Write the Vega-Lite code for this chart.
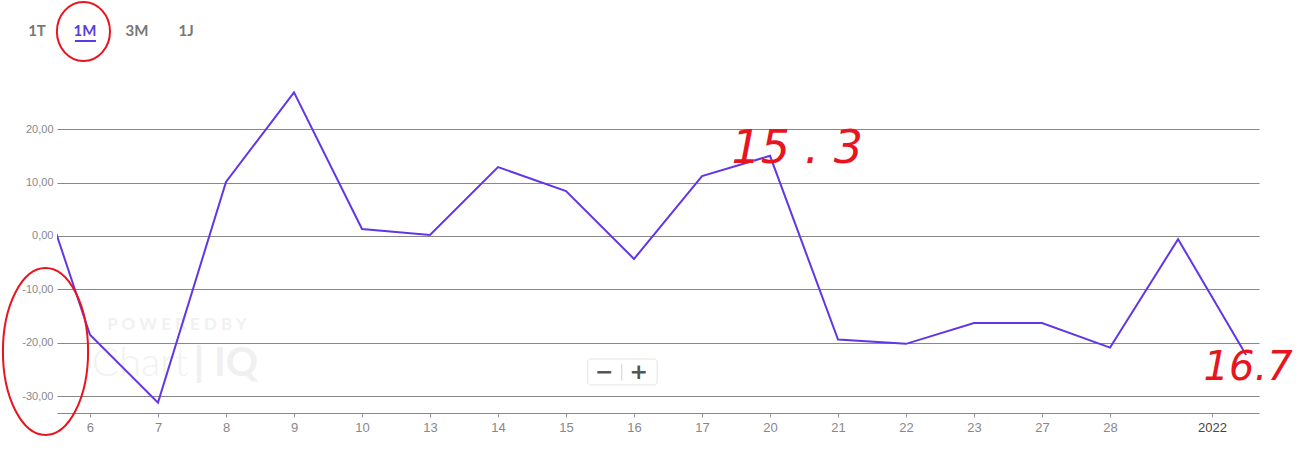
{
  "$schema": "https://vega.github.io/schema/vega-lite/v6.json",
  "autosize": {"type": "none"},
  "padding": {"left": 57, "top": 80, "right": 40, "bottom": 40},
  "width": 1202,
  "height": 333,
  "background": "#ffffff",
  "config": {"view": {"stroke": null}},
  "data": {"values": [
    {"i": -1, "day": "3", "value": 19.7},
    {"i": 0, "day": "6", "value": -18.5},
    {"i": 1, "day": "7", "value": -31.2},
    {"i": 2, "day": "8", "value": 10.1},
    {"i": 3, "day": "9", "value": 26.9},
    {"i": 4, "day": "10", "value": 1.3},
    {"i": 5, "day": "13", "value": 0.2},
    {"i": 6, "day": "14", "value": 12.9},
    {"i": 7, "day": "15", "value": 8.4},
    {"i": 8, "day": "16", "value": -4.3},
    {"i": 9, "day": "17", "value": 11.2},
    {"i": 10, "day": "20", "value": 15.0},
    {"i": 11, "day": "21", "value": -19.4},
    {"i": 12, "day": "22", "value": -20.2},
    {"i": 13, "day": "23", "value": -16.3},
    {"i": 14, "day": "27", "value": -16.3},
    {"i": 15, "day": "28", "value": -20.9},
    {"i": 16, "day": "29", "value": -0.6},
    {"i": 17, "day": "30", "value": -22.3}
  ]},
  "layer": [
    {
      "data": {"values": [{"t": "P O W E R E D   B Y"}]},
      "mark": {"type": "text", "fontSize": 17, "fontWeight": "bold", "font": "Lato", "color": "#f1f1f1", "align": "center", "baseline": "middle"},
      "encoding": {"x": {"datum": 1.28, "type": "quantitative"}, "y": {"datum": -16.7, "type": "quantitative"}, "text": {"field": "t"}}
    },
    {
      "data": {"values": [{"t": "Chart"}]},
      "mark": {"type": "text", "fontSize": 40, "fontWeight": 300, "font": "Lato", "color": "#f2f2f2", "align": "center", "baseline": "middle"},
      "encoding": {"x": {"datum": 0.735, "type": "quantitative"}, "y": {"datum": -23.9, "type": "quantitative"}, "text": {"field": "t"}}
    },
    {
      "data": {"values": [{"t": "| IQ"}]},
      "mark": {"type": "text", "fontSize": 40, "fontWeight": "bold", "font": "Lato", "color": "#f0f0f0", "align": "center", "baseline": "middle"},
      "encoding": {"x": {"datum": 2.0, "type": "quantitative"}, "y": {"datum": -23.9, "type": "quantitative"}, "text": {"field": "t"}}
    },
    {
      "mark": {"type": "line", "clip": true, "strokeWidth": 2, "color": "#6236e6"},
      "encoding": {
        "x": {
          "field": "i", "type": "quantitative",
          "scale": {"domain": [-0.485, 17.19], "zero": false, "nice": false},
          "axis": {
            "title": null,
            "values": [0, 1, 2, 3, 4, 5, 6, 7, 8, 9, 10, 11, 12, 13, 14, 15, 16.5],
            "labelExpr": "datum.value == 16.5 ? '2022' : ['6','7','8','9','10','13','14','15','16','17','20','21','22','23','27','28'][datum.value]",
            "grid": false,
            "domain": true, "domainColor": "#888888", "domainWidth": 1,
            "ticks": true, "tickSize": 4, "tickColor": "#999999",
            "labelFont": "Liberation Sans", "labelFontSize": 13,
            "labelColor": {"condition": {"test": "datum.value == 16.5", "value": "#444444"}, "value": "#888888"},
            "labelPadding": 4, "labelFlush": false, "labelOverlap": false
          }
        },
        "y": {
          "field": "value", "type": "quantitative",
          "scale": {"domain": [-33.15, 29.2], "zero": false, "nice": false},
          "axis": {
            "title": null,
            "values": [-30, -20, -10, 0, 10, 20],
            "labelExpr": "replace(replace(format(datum.value, '.2f'), '.', ','), '\u2212', '-')",
            "grid": true, "gridColor": "#888888", "gridWidth": 1,
            "domain": false, "ticks": false,
            "labelFont": "Liberation Sans", "labelFontSize": 11, "labelColor": "#888888",
            "labelPadding": 4
          }
        }
      }
    },
    {
      "data": {"values": [{"t": "1T"}]},
      "mark": {"type": "text", "fontSize": 15, "fontWeight": "bold", "font": "Lato", "color": "#777777", "align": "center", "baseline": "middle"},
      "encoding": {"x": {"datum": -0.779, "type": "quantitative"}, "y": {"datum": 38.37, "type": "quantitative"}, "text": {"field": "t"}}
    },
    {
      "data": {"values": [{"t": "1M"}]},
      "mark": {"type": "text", "fontSize": 15, "fontWeight": "bold", "font": "Lato", "color": "#5b3ce0", "align": "center", "baseline": "middle"},
      "encoding": {"x": {"datum": -0.074, "type": "quantitative"}, "y": {"datum": 38.37, "type": "quantitative"}, "text": {"field": "t"}}
    },
    {
      "data": {"values": [{"t": "3M"}]},
      "mark": {"type": "text", "fontSize": 15, "fontWeight": "bold", "font": "Lato", "color": "#777777", "align": "center", "baseline": "middle"},
      "encoding": {"x": {"datum": 0.691, "type": "quantitative"}, "y": {"datum": 38.37, "type": "quantitative"}, "text": {"field": "t"}}
    },
    {
      "data": {"values": [{"t": "1J"}]},
      "mark": {"type": "text", "fontSize": 15, "fontWeight": "bold", "font": "Lato", "color": "#777777", "align": "center", "baseline": "middle"},
      "encoding": {"x": {"datum": 1.412, "type": "quantitative"}, "y": {"datum": 38.37, "type": "quantitative"}, "text": {"field": "t"}}
    },
    {
      "data": {"values": [{"t": "underline"}]},
      "mark": {"type": "rule", "strokeWidth": 2, "color": "#5b3ce0"},
      "encoding": {"x": {"datum": -0.221, "type": "quantitative"}, "x2": {"datum": 0.088}, "y": {"datum": 36.5, "type": "quantitative"}}
    },
    {
      "data": {"values": [{"t": "box"}]},
      "mark": {"type": "rect", "fill": "#ffffff", "stroke": "#e4e4e4", "strokeWidth": 1, "cornerRadius": 3},
      "encoding": {"x": {"datum": 7.32, "type": "quantitative"}, "x2": {"datum": 8.34}, "y": {"datum": -23.04, "type": "quantitative"}, "y2": {"datum": -27.9}}
    },
    {
      "data": {"values": [{"t": "divider"}]},
      "mark": {"type": "rule", "strokeWidth": 1, "color": "#d0d0d0"},
      "encoding": {"x": {"datum": 7.82, "type": "quantitative"}, "y": {"datum": -24.0, "type": "quantitative"}, "y2": {"datum": -27.1}}
    },
    {
      "data": {"values": [{"t": "−"}]},
      "mark": {"type": "text", "fontSize": 22, "fontWeight": "bold", "font": "DejaVu Sans", "color": "#555555", "align": "center", "baseline": "middle"},
      "encoding": {"x": {"datum": 7.56, "type": "quantitative"}, "y": {"datum": -25.47, "type": "quantitative"}, "text": {"field": "t"}}
    },
    {
      "data": {"values": [{"t": "+"}]},
      "mark": {"type": "text", "fontSize": 22, "fontWeight": "bold", "font": "DejaVu Sans", "color": "#555555", "align": "center", "baseline": "middle"},
      "encoding": {"x": {"datum": 8.07, "type": "quantitative"}, "y": {"datum": -25.47, "type": "quantitative"}, "text": {"field": "t"}}
    },
    {
      "data": {"values": [{"t": "circle 1M"}]},
      "mark": {"type": "point", "filled": false, "stroke": "#e8141e", "strokeWidth": 2, "opacity": 1, "shape": "M -0.9 0 A 0.9 1 0 1 0 0.9 0 A 0.9 1 0 1 0 -0.9 0", "size": 3481},
      "encoding": {"x": {"datum": -0.096, "type": "quantitative"}, "y": {"datum": 38.28, "type": "quantitative"}}
    },
    {
      "data": {"values": [{"t": "ellipse axis"}]},
      "mark": {"type": "point", "filled": false, "stroke": "#e8141e", "strokeWidth": 2, "opacity": 1, "shape": "M -0.51 0 A 0.51 1 0 1 0 0.51 0 A 0.51 1 0 1 0 -0.51 0", "size": 27889},
      "encoding": {"x": {"datum": -0.654, "type": "quantitative"}, "y": {"datum": -21.63, "type": "quantitative"}}
    },
    {
      "data": {"values": [{"t": "15 . 3"}]},
      "mark": {"type": "text", "fontSize": 46, "fontStyle": "italic", "font": "DejaVu Sans", "fontWeight": 300, "color": "#e8141e", "align": "center", "baseline": "middle"},
      "encoding": {"x": {"datum": 10.4, "type": "quantitative"}, "y": {"datum": 16.3, "type": "quantitative"}, "text": {"field": "t"}}
    },
    {
      "data": {"values": [{"t": "16.7"}]},
      "mark": {"type": "text", "fontSize": 40, "fontStyle": "italic", "font": "DejaVu Sans", "fontWeight": 300, "color": "#e8141e", "align": "center", "baseline": "middle"},
      "encoding": {"x": {"datum": 17.03, "type": "quantitative"}, "y": {"datum": -24.72, "type": "quantitative"}, "text": {"field": "t"}}
    }
  ]
}
